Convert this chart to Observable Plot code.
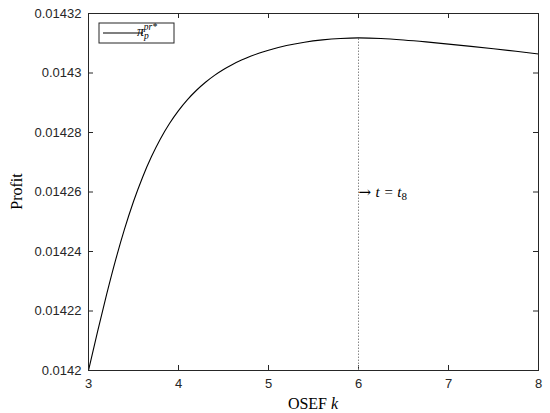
<!DOCTYPE html>
<html>
<head>
<meta charset="utf-8">
<script src="https://cdn.jsdelivr.net/npm/d3@7"></script>
<script src="https://cdn.jsdelivr.net/npm/@observablehq/plot@0.6"></script>
<style>
  html, body { margin: 0; padding: 0; background: #fff; }
</style>
</head>
<body>
<div id="chart"></div>
<script>
// ---- data ----
const kValues = [3.0, 3.1, 3.2, 3.3, 3.4, 3.5, 3.6, 3.7, 3.8, 3.9, 4.0, 4.1, 4.2, 4.3, 4.4, 4.5, 4.6, 4.7, 4.8, 4.9, 5.0, 5.2, 5.4, 5.6, 5.8, 6.0, 6.25, 6.5, 6.75, 7.0, 7.25, 7.5, 7.75, 8.0];
const profitValues = [0.0142, 0.014213, 0.0142254, 0.014237, 0.0142475, 0.0142568, 0.0142649, 0.0142719, 0.0142779, 0.014283, 0.01428735, 0.01429105, 0.0142942, 0.0142969, 0.0142992, 0.01430117, 0.01430287, 0.01430434, 0.01430561, 0.01430671, 0.01430766, 0.01430926, 0.01431036, 0.01431112, 0.0143116, 0.0143118, 0.0143116, 0.0143111, 0.01431045, 0.0143097, 0.01430895, 0.01430815, 0.0143073, 0.0143064];
const xTicks = [3, 4, 5, 6, 7, 8];
const yTicks = [0.0142, 0.01422, 0.01424, 0.01426, 0.01428, 0.0143, 0.01432];
const markerK = 6;                 // t = t8 position
const annotationProfit = 0.01426;  // level of the "→ t = t8" note
const seriesName = {base: "π", sub: "p", sup: "pr*"};

const data = kValues.map((k, i) => ({k, profit: profitValues[i]}));
const markerProfit = profitValues[kValues.indexOf(markerK)];

// ---- layout ----
const W = 550, H = 413;
const mL = 88, mR = 12, mT = 13, mB = 43;
const plotW = W - mL - mR, plotH = H - mT - mB;
const axisColor = "#262626";
const tickLen = 5;

const chart = Plot.plot({
  width: W,
  height: H,
  marginLeft: mL,
  marginRight: mR,
  marginTop: mT,
  marginBottom: mB,
  style: {fontFamily: "'Liberation Sans', Arial, sans-serif", background: "#fff", color: axisColor},
  x: {domain: [3, 8]},
  y: {domain: [0.0142, 0.01432]},
  marks: [
    // tick labels
    Plot.axisX(xTicks, {tickSize: 0, tickPadding: 8, fontSize: 13, label: null, fill: axisColor}),
    Plot.axisY(yTicks, {tickSize: 0, tickPadding: 7, fontSize: 13, label: null, fill: axisColor,
      tickFormat: d => String(+d.toFixed(5))}),
    // inward ticks on all four sides
    Plot.tickX(xTicks, {x: d => d, insetTop: plotH - tickLen, stroke: axisColor}),
    Plot.tickX(xTicks, {x: d => d, insetBottom: plotH - tickLen, stroke: axisColor}),
    Plot.tickY(yTicks, {y: d => d, insetRight: plotW - tickLen, stroke: axisColor}),
    Plot.tickY(yTicks, {y: d => d, insetLeft: plotW - tickLen, stroke: axisColor}),
    // dotted marker line at k = 6
    Plot.ruleX([markerK], {x: d => d, y1: 0.0142, y2: markerProfit, stroke: "#888", strokeWidth: 1, strokeDasharray: "1.5,1.5"}),
    // the curve
    Plot.line(data, {x: "k", y: "profit", stroke: "#000", strokeWidth: 1.1, curve: "monotone-x"}),
    // annotation
    Plot.text([markerK], {x: d => d, y: () => annotationProfit, text: () => "→", textAnchor: "start", dx: 0, fontSize: 15, fill: "#000",
      fontFamily: "'DejaVu Serif', serif"}),
    Plot.text([markerK], {x: d => d, y: () => annotationProfit, text: () => "t = t", textAnchor: "start", dx: 17, fontSize: 15, fill: "#000",
      fontFamily: "'Liberation Serif', serif", fontStyle: "italic"}),
    // frame
    Plot.frame({stroke: axisColor, strokeWidth: 1})
  ]
});

document.getElementById("chart").appendChild(chart);

// ---- rich text (sub/superscripts, mixed italics) added to the same SVG ----
const svg = d3.select(chart);
const serif = "'Liberation Serif', 'Times New Roman', serif";

// subscript 8 for the annotation
const annoNode = svg.selectAll("text").filter(function() { return this.textContent === "t = t"; });
annoNode.each(function() {
  d3.select(this).append("tspan").attr("font-style", "normal").attr("font-size", 11).attr("dy", "0.3em").text("8");
});

// x-axis label "OSEF k"
const xl = svg.append("text")
  .attr("x", mL + plotW / 2)
  .attr("y", H - 4)
  .attr("text-anchor", "middle")
  .attr("font-family", serif)
  .attr("font-size", 16)
  .attr("fill", "#000");
xl.append("tspan").text("OSEF ");
xl.append("tspan").attr("font-style", "italic").text("k");

// y-axis label "Profit"
svg.append("text")
  .attr("transform", `translate(${22},${mT + plotH / 2}) rotate(-90)`)
  .attr("text-anchor", "middle")
  .attr("font-family", serif)
  .attr("font-size", 16)
  .attr("fill", "#000")
  .text("Profit");

// legend box
const lg = svg.append("g").attr("transform", `translate(${mL + 11},${mT + 10})`);
lg.append("rect").attr("width", 75).attr("height", 20).attr("fill", "#fff").attr("stroke", axisColor).attr("stroke-width", 1);
lg.append("line").attr("x1", 4).attr("x2", 44).attr("y1", 10).attr("y2", 10).attr("stroke", "#000").attr("stroke-width", 1.1);
const lt = lg.append("text").attr("x", 48).attr("y", 13).attr("font-family", serif).attr("font-style", "italic").attr("font-size", 14).attr("fill", "#000");
lt.append("tspan").text(seriesName.base);
lt.append("tspan").attr("font-size", 9.5).attr("dy", 3).text(seriesName.sub);
lt.append("tspan").attr("font-size", 9.5).attr("dx", -5).attr("dy", -9).text(seriesName.sup);
</script>
</body>
</html>
